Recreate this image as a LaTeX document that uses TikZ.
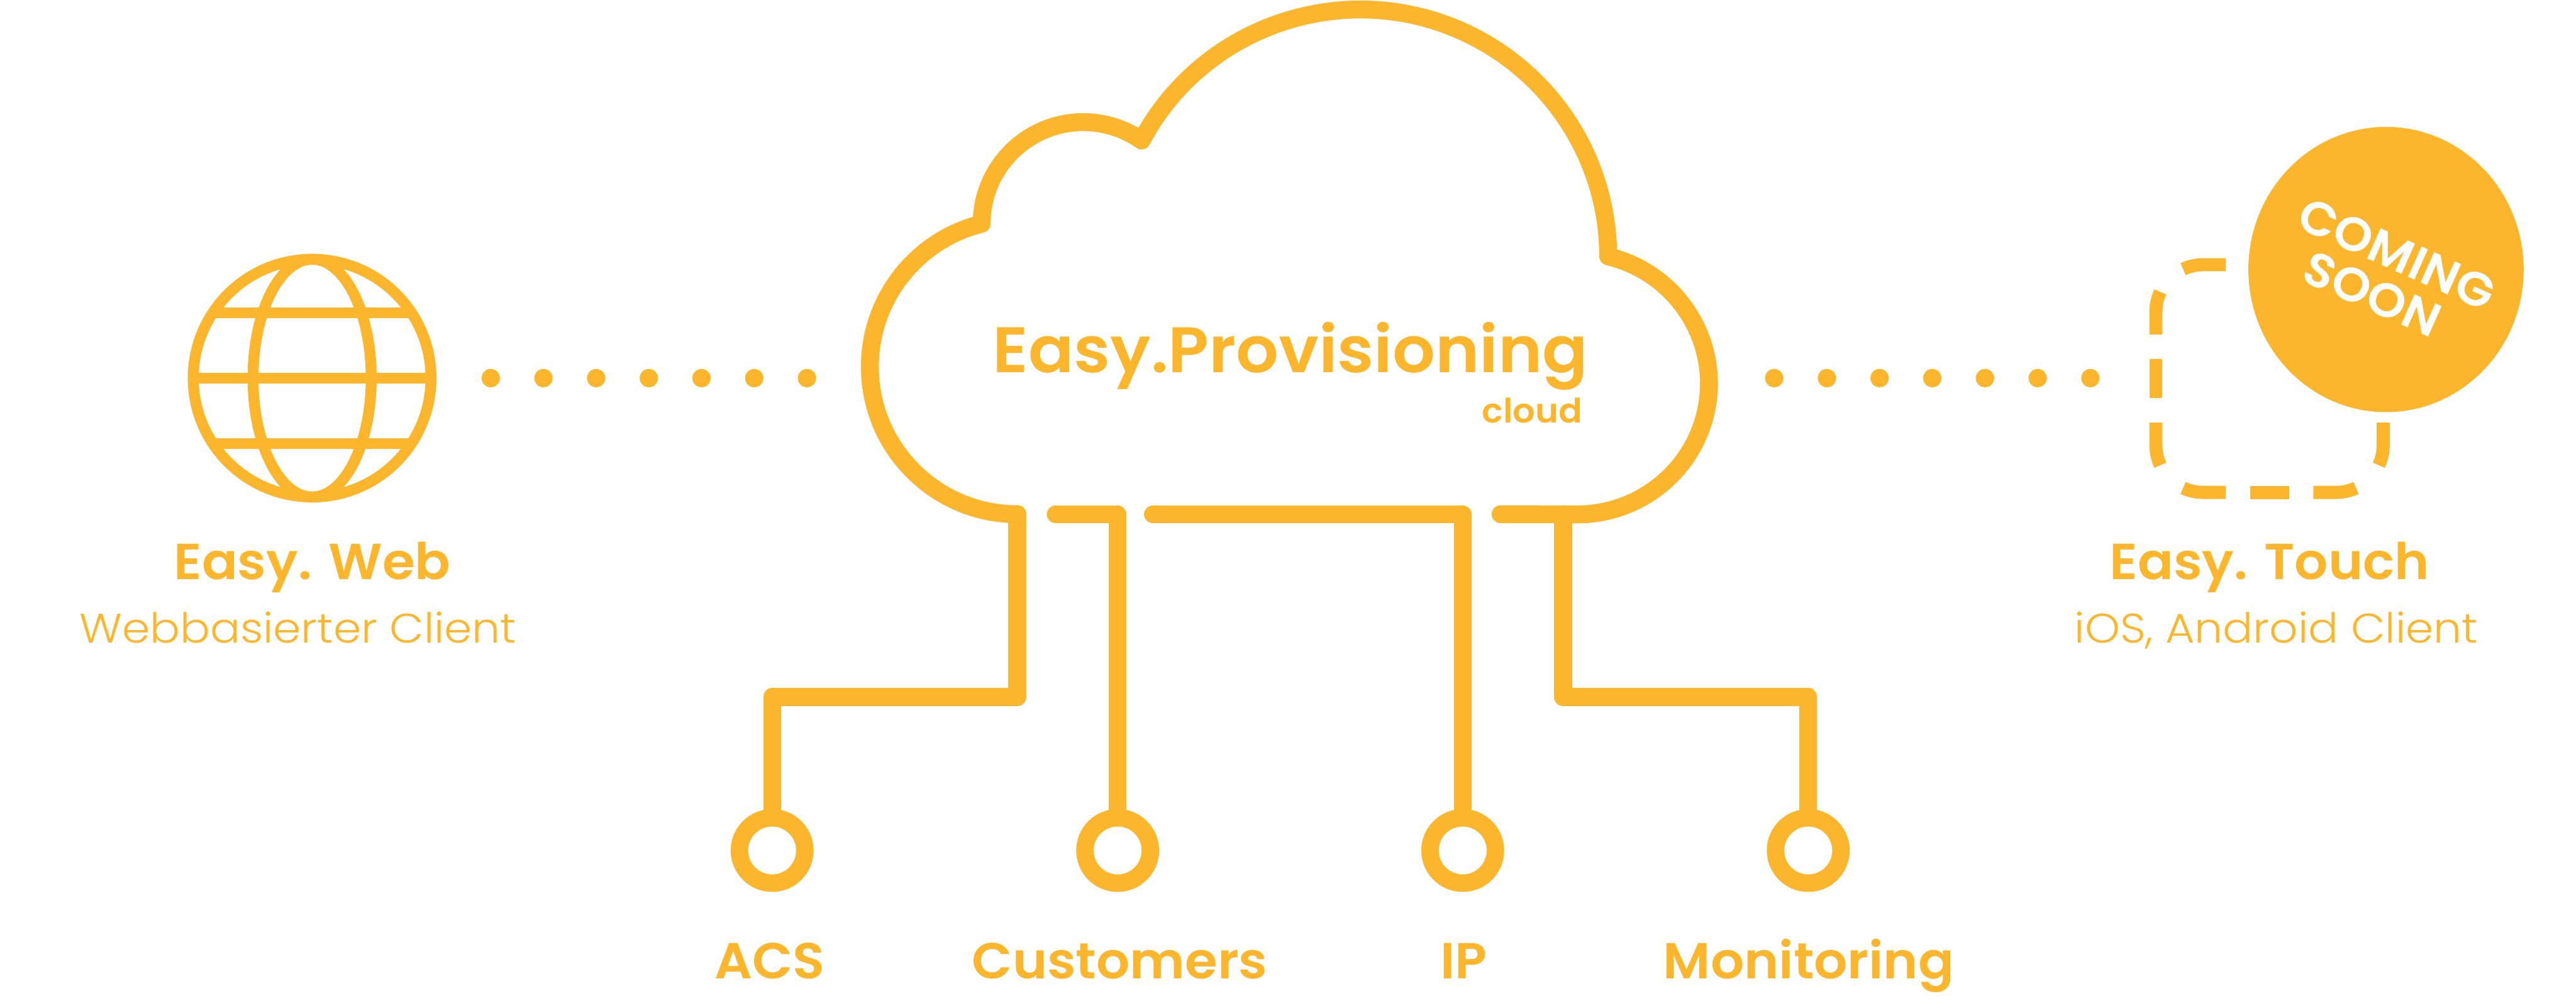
\documentclass[tikz,border=0pt]{standalone}
\usepackage{fontspec}
\setmainfont{Poppins}
\newfontfamily\easysemi[FakeStretch=1.04]{Poppins SemiBold}
\newfontfamily\easylight[FakeStretch=1.08]{Poppins Light}
\usetikzlibrary{shapes.geometric}
\definecolor{easy}{HTML}{FBB62D}
\tikzset{
titletext/.style={anchor=base,inner sep=0,text=easy,font=\easysemi\fontsize{33}{33}\selectfont},
subtext/.style={anchor=base,inner sep=0,text=easy,font=\easylight\fontsize{27}{27}\selectfont},
soontext/.style={inner sep=0,text=white,rotate=-24,font=\easysemi\fontsize{31}{31}\selectfont},
ringnode/.style={circle,draw=easy,fill=white,line width=.4cm,minimum size=1.5cm,inner sep=0},
wire/.style={draw=easy,line width=.41cm,line join=round,line cap=round},
dotline/.style={draw=easy,line width=.42cm,line cap=round,dash pattern=on 0pt off 1.208cm},
globeline/.style={draw=easy,line width=.25cm},
boxline/.style={draw=easy,line width=.3cm}
}
\begin{document}
\begin{tikzpicture}
\useasboundingbox (0,0) rectangle (59.05,22.94);
\coordinate (B1) at (23.32,11.15);
\coordinate (B2) at (24.20,11.15);
\coordinate (B3) at (26.43,11.15);
\coordinate (B4) at (35.83,11.15);
\coordinate (DL1) at (11.25,14.27);
\coordinate (DL2) at (18.55,14.27);
\coordinate (DR1) at (40.67,14.27);
\coordinate (DR2) at (47.93,14.27);
\draw[wire] (B1) arc[start angle=270,end angle=104,radius=3.38]
arc[start angle=180,end angle=55,radius=2.33]
arc[start angle=152,end angle=0,x radius=5.68,y radius=5.66]
arc[start angle=76.4,end angle=-90,x radius=3.02,y radius=3.00]
-- (34.40,11.15);
\node[titletext,font=\easysemi\fontsize{42}{42}\selectfont] (PROV) at (29.58,14.40) {Easy.Provisioning};
\node[anchor=base east,inner sep=0,text=easy,font=\easysemi\fontsize{22}{22}\selectfont] (CLD) at (36.28,13.24) {cloud};
\node[ringnode] (N1) at (17.70,3.44) {};
\node[ringnode] (N2) at (25.62,3.44) {};
\node[ringnode] (N3) at (33.53,3.44) {};
\node[ringnode] (N4) at (41.45,3.44) {};
\draw[wire] (B1) -- ++(0,-4.19) -| (N1.north);
\draw[wire] (B2) -| (N2.north);
\draw[wire] (B3) -| (N3.north);
\draw[wire] (B4) -- ++(0,-4.19) -| (N4.north);
\node[titletext] (ACS) at (17.65,.50) {ACS};
\node[titletext] (CUS) at (25.67,.50) {Customers};
\node[titletext] (IP) at (33.55,.50) {IP};
\node[titletext] (MON) at (41.46,.50) {Monitoring};
\draw[dotline] (DL1) -- (DL2);
\draw[dotline] (DR1) -- (DR2);
\coordinate (GL) at (7.155,14.27);
\draw[globeline] (GL) circle [radius=2.725];
\draw[globeline] (GL) ellipse [x radius=1.355,y radius=2.725];
\draw[globeline] (4.43,14.27) -- (9.88,14.27);
\draw[globeline] (4.885,15.77) -- (9.425,15.77);
\draw[globeline] (4.885,12.77) -- (9.425,12.77);
\node[titletext] (WEB) at (7.16,9.66) {Easy. Web};
\node[subtext] (WEBS) at (6.83,8.20) {Webbasierter Client};
\node[titletext] (TCH) at (52.03,9.66) {Easy. Touch};
\node[subtext] (TCHS) at (52.18,8.20) {iOS, Android Client};
\draw[boxline] (51.02,16.87) -- (50.50,16.87) arc[start angle=90,end angle=115,radius=1.08];
\draw[boxline] ([shift={(155:1.08)}]50.50,15.79) arc[start angle=155,end angle=180,radius=1.08] -- (49.42,15.27);
\draw[boxline] (49.42,14.71) -- (49.42,13.82);
\draw[boxline] (49.42,13.25) -- (49.42,12.73) arc[start angle=180,end angle=205,radius=1.08];
\draw[boxline] ([shift={(245:1.08)}]50.50,12.73) arc[start angle=245,end angle=270,radius=1.08] -- (51.02,11.65);
\draw[boxline] (51.58,11.65) -- (52.47,11.65);
\draw[boxline] (53.03,11.65) -- (53.55,11.65) arc[start angle=270,end angle=295,radius=1.08];
\draw[boxline] ([shift={(335:1.08)}]53.55,12.73) arc[start angle=335,end angle=360,radius=1.08] -- (54.63,13.25);
\node[ellipse,fill=easy,minimum width=6.31cm,minimum height=6.54cm,inner sep=0] (BADGE) at (54.695,16.76) {};
\node[soontext] (COM) at (54.94,17.12) {COMING};
\node[soontext] (SOON) at (54.38,16.20) {SOON};
\end{tikzpicture}
\end{document}
